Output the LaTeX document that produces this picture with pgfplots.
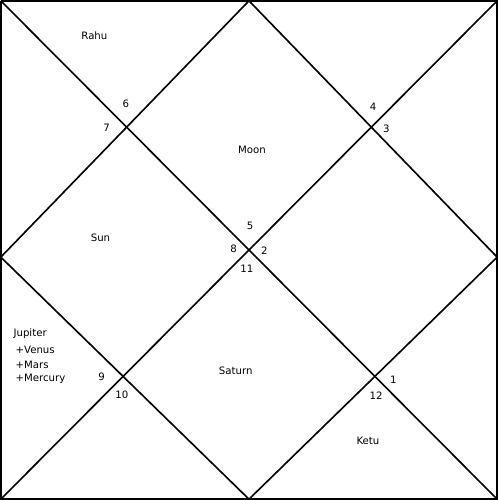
\documentclass[border=0pt]{standalone}
\usepackage{pgfplots}
\pgfplotsset{compat=1.18}
\usepackage{fontspec}
\setmainfont{DejaVu Sans}
\begin{document}
\begin{tikzpicture}
\begin{axis}[width=500pt,height=500pt,scale only axis,xmin=0,xmax=500,ymin=0,ymax=500,y dir=reverse,hide axis,clip=false]
\addplot[black,line width=1.6pt] coordinates {(5,3) (493,3) (493,493) (5,493) (5,3)};
\addplot[black,line width=1.6pt] coordinates {(5,3) (493,493)};
\addplot[black,line width=1.6pt] coordinates {(493,3) (5,493)};
\addplot[black,line width=1.6pt] coordinates {(249,3) (493,255) (249,493) (5,255) (249,3)};
\begin{scope}[font=\fontsize{10}{12}\selectfont]
\node at (97,37) {Rahu};
\node at (128,104) {6};
\node at (109,128) {7};
\node at (252,150) {Moon};
\node at (371,107) {4};
\node at (384,129) {3};
\node at (250,224) {5};
\node at (234,247) {8};
\node at (264,249) {2};
\node at (247,266) {11};
\node at (103,236) {Sun};
\node[anchor=west] at (14,330) {Jupiter};
\node[anchor=west] at (16,346) {+Venus};
\node[anchor=west] at (16,361) {+Mars};
\node[anchor=west] at (16,375) {+Mercury};
\node at (104,373) {9};
\node at (124,390) {10};
\node at (236,367) {Saturn};
\node at (391,376) {1};
\node at (374,391) {12};
\node at (366,436) {Ketu};
\end{scope}
\end{axis}
\end{tikzpicture}
\end{document}
